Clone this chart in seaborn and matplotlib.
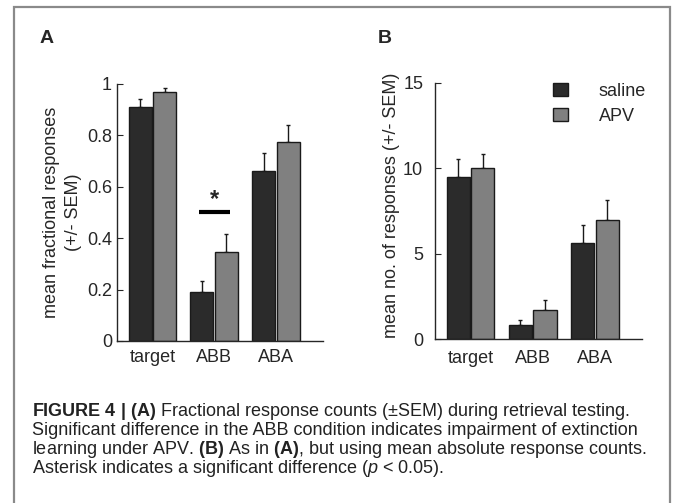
import numpy as np
import pandas as pd
import seaborn as sns
from matplotlib import pyplot as plt
from matplotlib.patches import Rectangle

conditions = ['target', 'ABB', 'ABA']
treatments = ['saline', 'APV']

frac_saline = [0.91, 0.19, 0.66]
frac_saline_sem = [0.03, 0.045, 0.07]
frac_apv = [0.97, 0.345, 0.775]
frac_apv_sem = [0.015, 0.07, 0.065]

count_saline = [9.5, 0.85, 5.65]
count_saline_sem = [1.05, 0.25, 1.05]
count_apv = [10.0, 1.7, 6.95]
count_apv_sem = [0.85, 0.6, 1.2]

colors = {'saline': '#2b2b2b', 'APV': '#808080'}

sns.set_style('ticks')
plt.rcParams['font.family'] = ['Liberation Sans', 'DejaVu Sans']
plt.rcParams['mathtext.fontset'] = 'custom'
plt.rcParams['mathtext.rm'] = 'Liberation Sans'
plt.rcParams['mathtext.it'] = 'Liberation Sans:italic'
plt.rcParams['mathtext.bf'] = 'Liberation Sans:bold'


def make_df(saline, apv):
    return pd.DataFrame({
        'condition': conditions * 2,
        'treatment': ['saline'] * 3 + ['APV'] * 3,
        'value': list(saline) + list(apv),
    })


def draw_panel(ax, df, sems):
    sns.barplot(data=df, x='condition', y='value', hue='treatment', hue_order=treatments,
                palette=colors, width=0.79, gap=0.06, errorbar=None, legend=False,
                edgecolor='#1a1a1a', linewidth=1.0, saturation=1, ax=ax)
    for cont, sem in zip(ax.containers, sems):
        xs = [p.get_x() + p.get_width() / 2 for p in cont.patches]
        ys = [p.get_height() for p in cont.patches]
        ax.errorbar(xs, ys, yerr=[np.zeros(len(sem)), sem], fmt='none',
                    ecolor='#1a1a1a', elinewidth=1.0, capsize=1.5, capthick=1.0, zorder=0.5)
    sns.despine(ax=ax)
    ax.spines['left'].set_linewidth(1.0)
    ax.spines['bottom'].set_linewidth(1.0)
    ax.set_xlabel('')
    ax.tick_params(axis='x', length=0, labelsize=13)
    ax.tick_params(axis='y', direction='in', length=4, labelsize=13)
    ax.set_xlim(-0.573, 2.76)


fig = plt.figure(figsize=(6.73, 5.03), dpi=100)

# outer frame
fig.patches.append(Rectangle((14 / 673, -0.1), 656 / 673, 1.1 - 7 / 503, transform=fig.transFigure,
                             fill=False, edgecolor='#8a8a8a', linewidth=1.6, clip_on=False))

axA = fig.add_axes([0.1738, 0.3221, 0.306, 0.511])
draw_panel(axA, make_df(frac_saline, frac_apv), [frac_saline_sem, frac_apv_sem])
axA.set_ylim(0, 1)
axA.set_yticks([0, 0.2, 0.4, 0.6, 0.8, 1])
axA.set_yticklabels(['0', '0.2', '0.4', '0.6', '0.8', '1'])
axA.tick_params(axis='y', pad=3.6)
axA.tick_params(axis='x', pad=5.5)
axA.set_ylabel('mean fractional responses\n(+/- SEM)', fontsize=13, linespacing=1.4)
axA.yaxis.set_label_coords(-0.17, 0.5)
# significance marker over ABB
abb = conditions.index('ABB')
axA.plot([abb - 0.25, abb + 0.25], [0.5, 0.5], color='black', linewidth=3, solid_capstyle='butt')
axA.text(abb, 0.505, '*', ha='center', va='bottom', fontsize=17, fontweight='bold')

axB = fig.add_axes([0.6464, 0.326, 0.3076, 0.509])
draw_panel(axB, make_df(count_saline, count_apv), [count_saline_sem, count_apv_sem])
axB.set_ylim(0, 15)
axB.set_yticks([0, 5, 10, 15])
axB.tick_params(axis='y', pad=8.5)
axB.tick_params(axis='x', pad=8)
axB.set_ylabel('mean no. of responses (+/- SEM)', fontsize=13)
axB.yaxis.set_label_coords(-0.17, 0.523)
axB.legend(axB.containers, treatments, loc='upper right', frameon=False, fontsize=13,
           handlelength=0.8, handleheight=0.7, handletextpad=1.7, labelspacing=0.45,
           borderaxespad=0.0, bbox_to_anchor=(1.053, 1.03))

fig.text(40 / 673, 1 - 43 / 503, 'A', fontsize=14, fontweight='bold')
fig.text(378 / 673, 1 - 43 / 503, 'B', fontsize=14, fontweight='bold')

caption = [
    r'$\mathbf{FIGURE\ 4\ |\ (A)}$ Fractional response counts (±SEM) during retrieval testing.',
    'Significant difference in the ABB condition indicates impairment of extinction',
    r'learning under APV. $\mathbf{(B)}$ As in $\mathbf{(A)}$, but using mean absolute response counts.',
    r'Asterisk indicates a significant difference ($\mathit{p}$ < 0.05).',
]
for i, line in enumerate(caption):
    fig.text(32 / 673, 1 - (416 + 19 * i) / 503, line, fontsize=13, va='baseline', color='#222222')

fig.savefig('out.png', dpi=100)
